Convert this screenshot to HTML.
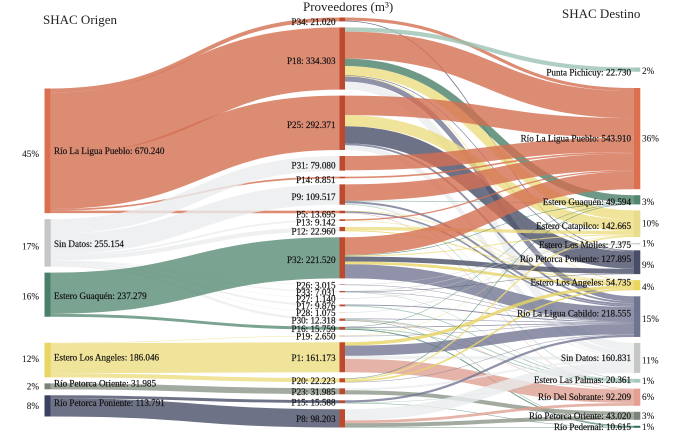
<!DOCTYPE html>
<html lang="es">
<head>
<meta charset="utf-8">
<title>Sankey de proveedores</title>
<style>
html,body{margin:0;padding:0;background:#fff;width:679px;height:436px;overflow:hidden}
svg{display:block;filter:blur(.35px)}
text{font-family:"Liberation Serif","DejaVu Serif",serif;fill:#111}
.lab{font-size:9.1px;stroke:#111;stroke-width:.18px}
.pct{font-size:9.2px;fill:#222;stroke:#222;stroke-width:.1px}
.ttl{font-size:13px;fill:#222}
</style>
</head>
<body>
<svg id="chart" width="679" height="436" viewBox="0 0 679 436" xmlns="http://www.w3.org/2000/svg">
  <text class="ttl" x="43" y="24">SHAC Origen</text>
  <text class="ttl" x="303" y="11">Proveedores (m³)</text>
  <text class="ttl" x="562" y="18">SHAC Destino</text>
  <g id="links"></g>
  <g id="nodes"></g>
  <g id="labels"></g>
</svg>
<script>
// ---- data ----
const originNames = ["Río La Ligua Pueblo","Sin Datos","Estero Guaquén","Estero Los Angeles","Río Petorca Oriente","Río Petorca Poniente"];
const originValues = [670240,255154,237279,186046,31985,113791];
const originPercents = ["45%","17%","16%","12%","2%","8%"];

const supplierNames = ["P34","P18","P25","P31","P14","P9","P5","P13","P12","P32","P26","P33","P27","P17","P28","P30","P16","P19","P1","P20","P23","P15","P8"];
const supplierValues = [21020,334303,292371,79080,8851,109517,13695,9142,22960,221520,3015,7031,1140,9876,1075,12318,15759,2650,161173,22223,31985,15588,98203];

const destinationNames = ["Punta Pichicuy","Río La Ligua Pueblo","Estero Guaquén","Estero Catapilco","Estero Los Molles","Río Petorca Poniente","Estero Los Angeles","Río La Ligua Cabildo","Sin Datos","Estero Las Palmas","Río Del Sobrante","Río Petorca Oriente","Río Pedernal"];
const destinationValues = [22730,543910,49594,142665,7375,127895,54735,218555,160831,20361,92209,43020,10615];
const destinationPercents = ["2%","36%","3%","10%","1%","9%","4%","15%","11%","1%","6%","3%","1%"];

// origin flows: [origin name, supplier, m3]
const originFlows = [
  ["Río La Ligua Pueblo","P34",21020],["Río La Ligua Pueblo","P18",334303],["Río La Ligua Pueblo","P25",292371],["Río La Ligua Pueblo","P14",8851],["Río La Ligua Pueblo","P5",13695],
  ["Sin Datos","P31",79080],["Sin Datos","P9",109517],["Sin Datos","P13",9142],["Sin Datos","P12",22960],["Sin Datos","P26",3015],["Sin Datos","P33",7031],["Sin Datos","P27",1140],["Sin Datos","P17",9876],["Sin Datos","P28",1075],["Sin Datos","P30",12318],
  ["Estero Guaquén","P32",221520],["Estero Guaquén","P16",15759],
  ["Estero Los Angeles","P19",2650],["Estero Los Angeles","P1",161173],["Estero Los Angeles","P20",22223],
  ["Río Petorca Oriente","P23",31985],
  ["Río Petorca Poniente","P15",15588],["Río Petorca Poniente","P8",98203]
];

// destination flows: [supplier, destination name, m3]
const destinationFlows = [
  ["P34","Río La Ligua Pueblo",17000],["P34","Río Petorca Poniente",4020],
  ["P18","Punta Pichicuy",22730],["P18","Río La Ligua Pueblo",145000],["P18","Estero Guaquén",40000],["P18","Estero Catapilco",50000],["P18","Río Petorca Poniente",3000],["P18","Estero Los Angeles",3000],["P18","Río La Ligua Cabildo",28000],["P18","Sin Datos",42573],
  ["P25","Río La Ligua Pueblo",105000],["P25","Estero Catapilco",60000],["P25","Río Petorca Poniente",92000],["P25","Río La Ligua Cabildo",10000],["P25","Sin Datos",25371],
  ["P31","Río La Ligua Pueblo",77000],["P31","Sin Datos",2080],
  ["P14","Río La Ligua Pueblo",8851],
  ["P9","Río La Ligua Pueblo",88917],["P9","Estero Guaquén",2000],["P9","Río La Ligua Cabildo",11142],["P9","Sin Datos",4458],["P9","Estero Las Palmas",3000],
  ["P5","Estero Los Angeles",3000],["P5","Río La Ligua Cabildo",8000],["P5","Río Del Sobrante",2695],
  ["P13","Río La Ligua Pueblo",7142],["P13","Estero Los Angeles",2000],
  ["P12","Estero Catapilco",18000],["P12","Estero Los Angeles",4960],
  ["P32","Río La Ligua Pueblo",95000],["P32","Estero Guaquén",3000],["P32","Estero Catapilco",5665],["P32","Río Petorca Poniente",27000],["P32","Estero Los Angeles",15000],["P32","Río La Ligua Cabildo",75855],
  ["P26","Estero Los Molles",2160],["P26","Río La Ligua Cabildo",855],
  ["P33","Estero Los Molles",3000],["P33","Río Petorca Poniente",1875],["P33","Río La Ligua Cabildo",1460],["P33","Sin Datos",176],["P33","Estero Las Palmas",520],
  ["P27","Estero Los Molles",1140],
  ["P17","Río La Ligua Cabildo",5000],["P17","Estero Las Palmas",4876],
  ["P28","Estero Los Molles",1075],
  ["P30","Río La Ligua Cabildo",3000],["P30","Estero Las Palmas",5000],["P30","Río Del Sobrante",2514],["P30","Río Pedernal",1804],
  ["P16","Estero Guaquén",1594],["P16","Río La Ligua Cabildo",4000],["P16","Estero Las Palmas",4965],["P16","Río Pedernal",5200],
  ["P19","Estero Catapilco",1000],["P19","Río La Ligua Cabildo",1650],
  ["P1","Estero Los Angeles",18000],["P1","Río La Ligua Cabildo",55000],["P1","Sin Datos",16173],["P1","Río Del Sobrante",72000],
  ["P20","Estero Guaquén",3000],["P20","Estero Catapilco",8000],["P20","Estero Los Angeles",8775],["P20","Río La Ligua Cabildo",2448],
  ["P23","Sin Datos",10000],["P23","Río Petorca Oriente",21985],
  ["P15","Río La Ligua Cabildo",12145],["P15","Estero Las Palmas",2000],["P15","Río Pedernal",1443],
  ["P8","Sin Datos",60000],["P8","Río Del Sobrante",15000],["P8","Río Petorca Oriente",21035],["P8","Río Pedernal",2168]
];

// ---- styling and layout (not data) ----
const originColors = {"Río La Ligua Pueblo":"#d96e50","Sin Datos":"#c6c6c6","Estero Guaquén":"#4a8069","Estero Los Angeles":"#e8d564","Río Petorca Oriente":"#7c8478","Río Petorca Poniente":"#3b4160"};
const originLinkColors = {"Río La Ligua Pueblo":"#d46f51","Sin Datos":"#eaecee","Estero Guaquén":"#5a8c75","Estero Los Angeles":"#ecdc81","Río Petorca Oriente":"#8c9587","Río Petorca Poniente":"#4a4f68"};
const destinationColors = {"Punta Pichicuy":"#a6c8ba","Río La Ligua Pueblo":"#de6f4f","Estero Guaquén":"#4f8770","Estero Catapilco":"#e9dc8c","Estero Los Molles":"#c9cccc","Río Petorca Poniente":"#484d68","Estero Los Angeles":"#ead75e","Río La Ligua Cabildo":"#6f7490","Sin Datos":"#c6c6c6","Estero Las Palmas":"#a6c8ba","Río Del Sobrante":"#e49f90","Río Petorca Oriente":"#7c8478","Río Pedernal":"#2f6b55"};
const destinationLinkColors = {"Punta Pichicuy":"#9cc2b2","Río La Ligua Pueblo":"#d46f51","Estero Guaquén":"#4a8069","Estero Catapilco":"#ecdc81","Estero Los Molles":"#c9cccc","Río Petorca Poniente":"#4a4f68","Estero Los Angeles":"#e8d564","Río La Ligua Cabildo":"#737792","Sin Datos":"#eaecee","Estero Las Palmas":"#9cc2b2","Río Del Sobrante":"#e0a092","Río Petorca Oriente":"#8c9587","Río Pedernal":"#4a8069"};
const supplierColor = "#bd4a2f";
const linkOpacity = 0.8;
const pxPerUnit = 0.000186;
const nodePad = 6;
const columnX = {origin:[44.5,50.8], supplier:[339.5,345], destination:[634,640.3]};
const columnStart = {origin:88.5, supplier:17.5, destination:67.5};
const extraGapBefore = {origin:{"Estero Los Angeles":20}, supplier:{}, destination:{"Río La Ligua Pueblo":10.3}};
const labelNudge = {
  "origin":{"Estero Los Angeles":-2.4,"Río Petorca Oriente":-2.6,"Río Petorca Poniente":-3,"Estero Guaquén":1.2,"Sin Datos":1},
  "destination":{"Punta Pichicuy":3,"Estero Guaquén":2,"Estero Catapilco":2.4,"Estero Los Molles":1.4,"Río Petorca Poniente":-3,"Estero Los Angeles":-2.5,"Río La Ligua Cabildo":-3,"Estero Las Palmas":-1}
};
const percentNudge = {"origin":{"Río La Ligua Pueblo":3,"Sin Datos":3.5,"Estero Guaquén":2,"Estero Los Angeles":-1},"destination":{"Punta Pichicuy":1.5,"Estero Guaquén":2,"Río Petorca Poniente":3,"Estero Los Angeles":2,"Río La Ligua Cabildo":2.5,"Sin Datos":2.5}};

// ---- build ----
const NS = "http://www.w3.org/2000/svg";
function formatValue(v){ return String(v).replace(/\B(?=(\d{3})+$)/g,"."); }
function layoutColumn(key, names, values){
  const map = {};
  let y = columnStart[key];
  names.forEach(function(n,i){
    y += extraGapBefore[key][n] || 0;
    const h = values[i]*pxPerUnit;
    map[n] = {y:y, h:h, outY:y, inY:y, value:values[i]};
    y += h + nodePad;
  });
  return map;
}
const originNodes = layoutColumn("origin", originNames, originValues);
const supplierNodes = layoutColumn("supplier", supplierNames, supplierValues);
const destinationNodes = layoutColumn("destination", destinationNames, destinationValues);

const linkGroup = document.getElementById("links");
const nodeGroup = document.getElementById("nodes");
const labelGroup = document.getElementById("labels");

function drawRibbon(fromNode, toNode, x0, x1, value, color, name){
  const w = value*pxPerUnit;
  const y0 = fromNode.outY + w/2;
  const y1 = toNode.inY + w/2;
  fromNode.outY += w;
  toNode.inY += w;
  const xm = (x0+x1)/2;
  const p = document.createElementNS(NS,"path");
  p.setAttribute("d","M"+x0+" "+y0.toFixed(2)+"C"+xm+" "+y0.toFixed(2)+" "+xm+" "+y1.toFixed(2)+" "+x1+" "+y1.toFixed(2));
  p.setAttribute("fill","none");
  p.setAttribute("stroke",color);
  p.setAttribute("stroke-opacity",linkOpacity);
  p.setAttribute("stroke-width",Math.max(w,0.45).toFixed(2));
  
  
  linkGroup.appendChild(p);
}
originFlows.forEach(function(f){
  drawRibbon(originNodes[f[0]], supplierNodes[f[1]], columnX.origin[1], columnX.supplier[0], f[2], originLinkColors[f[0]], "origin-flow");
});
destinationFlows.forEach(function(f){
  drawRibbon(supplierNodes[f[0]], destinationNodes[f[1]], columnX.supplier[1], columnX.destination[0], f[2], destinationLinkColors[f[1]], "destination-flow");
});

function drawBar(node, xs, color, name){
  const r = document.createElementNS(NS,"rect");
  r.setAttribute("x",xs[0]);
  r.setAttribute("y",node.y.toFixed(2));
  r.setAttribute("width",xs[1]-xs[0]);
  r.setAttribute("height",node.h.toFixed(2));
  r.setAttribute("fill",color);
  
  
  nodeGroup.appendChild(r);
}
function drawText(str, x, y, anchor, cls, name){
  const t = document.createElementNS(NS,"text");
  t.setAttribute("x",x);
  t.setAttribute("y",y.toFixed(2));
  t.setAttribute("text-anchor",anchor);
  t.setAttribute("class",cls);
  
  
  t.textContent = str;
  labelGroup.appendChild(t);
}
originNames.forEach(function(n,i){
  const node = originNodes[n];
  const c = node.y + node.h/2;
  drawBar(node, columnX.origin, originColors[n], "origin-node");
  drawText(n+": "+formatValue(originValues[i]), 54, c+3+(labelNudge.origin[n]||0), "start", "lab", "origin-label");
  drawText(originPercents[i], 39, c+3+(percentNudge.origin[n]||0), "end", "pct", "origin-percent");
});
supplierNames.forEach(function(n,i){
  const node = supplierNodes[n];
  const c = node.y + node.h/2;
  drawBar(node, columnX.supplier, supplierColor, "supplier-node");
  const nudge = i < 10 ? 2.4 : 0.7;
  drawText(n+": "+formatValue(supplierValues[i]), 335.5, c+3+nudge, "end", "lab", "supplier-label");
});
destinationNames.forEach(function(n,i){
  const node = destinationNodes[n];
  const c = node.y + node.h/2;
  drawBar(node, columnX.destination, destinationColors[n], "destination-node");
  drawText(n+": "+formatValue(destinationValues[i]), 631, c+3+(labelNudge.destination[n]||0), "end", "lab", "destination-label");
  drawText(destinationPercents[i], 642, c+3+(percentNudge.destination[n]||0), "start", "pct", "destination-percent");
});
</script>
</body>
</html>
